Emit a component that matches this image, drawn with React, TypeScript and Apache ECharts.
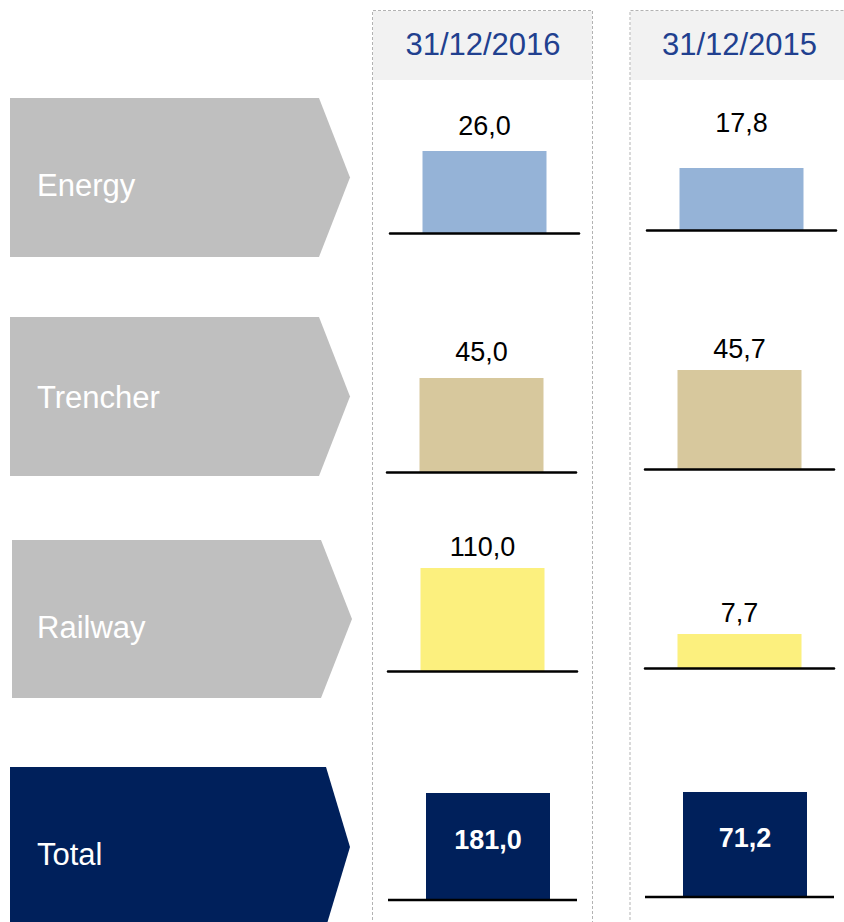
import React, { useEffect, useRef } from "react";
import * as echarts from "echarts";

// ---- data ----
const categories = ["Energy", "Trencher", "Railway", "Total"];
const periods = ["31/12/2016", "31/12/2015"];
const values2016 = [26.0, 45.0, 110.0, 181.0];
const values2015 = [17.8, 45.7, 7.7, 71.2];

// ---- layout / style (not data) ----
const FONT = '"Liberation Sans", Arial, Helvetica, sans-serif';
const barColors = ["#95b3d7", "#d7c89d", "#fcf07e", "#00205b"];
const chevronColors = ["#bfbfbf", "#bfbfbf", "#bfbfbf", "#00205b"];
const rowBaseline = [
  [233, 230],
  [472, 469],
  [671, 668],
  [900, 897],
];
const cellLeft = [
  [390, 647],
  [387, 645],
  [388, 645],
  [393.5, 650.5],
];
// baseline rules drawn separately for the Total row (its bars sit off-centre on the rule)
const totalRuleLeft = [388, 645];
// each cell is an independent mini chart (as in the source slide) with its own value axis range
const cellAxisMax = [
  [38, 34.5],
  [57.4, 55.4],
  [128.2, 27.2],
  [203, 81.4],
];
const labelDistance = [
  [11, 32],
  [12.5, 8],
  [8, 7.5],
  [0, 0],
];
const GRID_W = 189;
const GRID_H = 120;
const BAR_W = 124;

const chevrons = [
  { top: 98, bottom: 257, left: 10, notch: 319, tip: 350 },
  { top: 317, bottom: 476, left: 10, notch: 319, tip: 350 },
  { top: 540, bottom: 698, left: 12, notch: 321, tip: 352 },
  { top: 767, bottom: 927, left: 10, notch: 326, tip: 350 },
];
const labelY = [185, 397, 627.5, 854.5];
const columns = [
  { left: 372.5, right: 592.5, textX: 483 },
  { left: 630, right: 850, textX: 739.5 },
];

const fmt = (v: number) => v.toFixed(1).replace(".", ",");

export default function App() {
  const ref = useRef<HTMLDivElement>(null);

  useEffect(() => {
    if (!ref.current) return;
    const chart = echarts.init(ref.current, undefined, { renderer: "svg" });

    const grids: any[] = [];
    const xAxes: any[] = [];
    const yAxes: any[] = [];
    const series: any[] = [];
    const colValues = [values2016, values2015];

    categories.forEach((cat, r) => {
      [0, 1].forEach((c) => {
        const i = grids.length;
        const base = rowBaseline[r][c];
        const isTotal = r === 3;
        grids.push({
          left: cellLeft[r][c],
          top: base - GRID_H,
          width: GRID_W,
          height: GRID_H,
          containLabel: false,
        });
        xAxes.push({
          gridIndex: i,
          type: "category",
          data: [cat],
          axisLine: {
            show: !isTotal,
            lineStyle: { color: "#000", width: 2.5 },
          },
          axisTick: { show: false },
          axisLabel: { show: false },
          splitLine: { show: false },
          z: 5,
        });
        yAxes.push({
          gridIndex: i,
          type: "value",
          min: 0,
          max: cellAxisMax[r][c],
          show: false,
          splitLine: { show: false },
        });
        series.push({
          type: "bar",
          name: `${cat} ${periods[c]}`,
          xAxisIndex: i,
          yAxisIndex: i,
          barWidth: BAR_W,
          data: [colValues[c][r]],
          itemStyle: { color: barColors[r] },
          label: {
            show: true,
            position: isTotal ? "inside" : "top",
            distance: labelDistance[r][c],
            offset: isTotal ? [0, -7] : [0, 0],
            formatter: (p: any) => fmt(p.value),
            color: isTotal ? "#fff" : "#000",
            fontWeight: isTotal ? "bold" : "normal",
            fontSize: 27,
            fontFamily: FONT,
          },
        });
      });
    });

    const graphics: any[] = [];
    // column boxes
    columns.forEach((col, c) => {
      graphics.push({
        type: "rect",
        shape: { x: col.left + 0.5, y: 11, width: col.right - col.left - 1, height: 69 },
        style: { fill: "#f2f2f2" },
        z: 0,
      });
      graphics.push({
        type: "polyline",
        shape: {
          points: [
            [col.left, 930],
            [col.left, 10.5],
            [col.right, 10.5],
            [col.right, 930],
          ],
        },
        style: { fill: "none", stroke: "#b3b3b3", lineWidth: 1, lineDash: [3, 2] },
        z: 1,
      });
      graphics.push({
        type: "text",
        x: col.textX,
        y: 44,
        style: {
          text: periods[c],
          fill: "#21408f",
          fontSize: 31,
          fontFamily: FONT,
          textAlign: "center",
          textVerticalAlign: "middle",
          verticalAlign: "middle",
        },
        z: 2,
      });
      // Total row baseline rule
      graphics.push({
        type: "line",
        shape: {
          x1: totalRuleLeft[c],
          y1: rowBaseline[3][c],
          x2: totalRuleLeft[c] + GRID_W,
          y2: rowBaseline[3][c],
        },
        style: { stroke: "#000", lineWidth: 2.5 },
        z: 10,
      });
    });
    // chevrons + labels
    chevrons.forEach((ch, r) => {
      const mid = (ch.top + ch.bottom) / 2;
      graphics.push({
        type: "polygon",
        shape: {
          points: [
            [ch.left, ch.top],
            [ch.notch, ch.top],
            [ch.tip, r === 3 ? 847 : mid],
            [ch.notch, ch.bottom],
            [ch.left, ch.bottom],
          ],
        },
        style: { fill: chevronColors[r] },
        z: 1,
      });
      graphics.push({
        type: "text",
        x: 37,
        y: labelY[r],
        style: {
          text: categories[r],
          fill: "#ffffff",
          fontSize: 31,
          fontFamily: FONT,
          textAlign: "left",
          textVerticalAlign: "middle",
          verticalAlign: "middle",
        },
        z: 2,
      });
    });

    chart.setOption({
      animation: false,
      backgroundColor: "#ffffff",
      grid: grids,
      xAxis: xAxes,
      yAxis: yAxes,
      series,
      graphic: graphics,
    });

    return () => chart.dispose();
  }, []);

  return (
    <div
      ref={ref}
      style={{ position: "absolute", left: 0, top: 0, width: 844, height: 922 }}
    />
  );
}
